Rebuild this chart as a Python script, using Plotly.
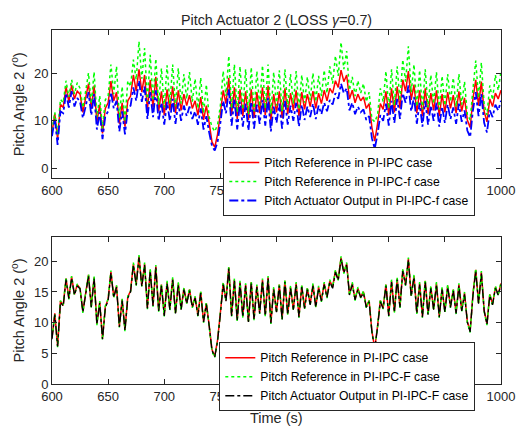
import numpy as np
import plotly.graph_objects as go

# time grid (s)
t_start, t_end, t_step = 600, 1000, 2.5
t = np.arange(t_start, t_end + t_step / 2, t_step)

# Pitch Reference in PI-IPC case (shared by both panels)
ref_ipc = [
    7.5, 11.5, 6.2, 13.5, 12.8, 17.2, 14.0, 17.5, 14.6, 16.2, 15.6, 11.8, 14.8, 17.8, 12.6, 17.4, 9.8, 13.4, 7.4, 12.6,
    13.8, 18.3, 14.2, 16.0, 9.4, 13.8, 8.8, 14.2, 15.2, 19.6, 16.2, 20.8, 16.0, 19.6, 12.4, 18.6, 12.8, 19.2, 12.0, 16.2,
    11.2, 16.6, 12.2, 17.2, 11.6, 16.4, 12.2, 15.6, 13.2, 15.4, 12.6, 14.2, 11.2, 15.0, 10.2, 13.2, 9.6, 5.6, 4.5, 7.2,
    11.6, 16.4, 13.6, 19.0, 11.2, 17.0, 10.4, 16.6, 11.0, 16.2, 10.2, 16.6, 10.6, 16.0, 11.6, 17.0, 11.2, 17.4, 10.0, 15.6,
    11.8, 16.2, 10.6, 16.8, 11.4, 15.8, 12.2, 16.4, 11.0, 16.0, 12.4, 15.6, 13.0, 16.2, 12.6, 15.8, 13.6, 16.4, 14.2, 16.8,
    15.8, 18.4, 17.0, 20.6, 18.2, 19.6, 14.6, 16.4, 13.8, 15.6, 14.2, 15.0, 12.6, 13.6, 8.6, 5.8, 9.4, 13.6, 12.4, 16.2,
    11.2, 16.8, 11.8, 17.2, 12.6, 18.6, 16.2, 20.4, 14.4, 17.6, 11.6, 16.4, 11.0, 16.8, 11.4, 15.8, 12.2, 16.4, 11.0, 15.6,
    11.8, 16.0, 12.6, 15.4, 11.6, 16.2, 12.0, 14.8, 10.2, 8.6, 14.6, 18.6, 13.2, 18.2, 12.0, 9.8, 14.6, 13.0, 15.8, 14.6,
    16.4,
]

# Pitch Reference in PI-IPC-f case (LOSS)
ref_ipcf_loss = [
    8.0, 11.8, 7.0, 14.5, 13.8, 18.4, 15.0, 18.6, 15.6, 18.0, 16.8, 12.8, 16.2, 20.0, 13.6, 20.2, 10.8, 15.2, 8.4, 14.4,
    15.2, 21.8, 15.6, 21.4, 10.6, 17.2, 9.8, 18.4, 17.2, 22.8, 18.6, 26.6, 18.8, 25.2, 14.0, 23.8, 14.2, 23.0, 13.4, 21.0,
    12.8, 21.6, 13.6, 21.8, 13.0, 21.0, 13.6, 19.8, 14.6, 20.2, 14.0, 18.8, 12.6, 19.0, 11.6, 17.6, 10.8, 8.8, 7.8, 9.2,
    13.2, 20.4, 15.2, 23.6, 12.6, 21.8, 11.8, 21.4, 12.4, 20.8, 11.4, 21.2, 12.0, 20.4, 13.0, 21.6, 12.6, 21.8, 11.4, 20.2,
    13.2, 20.6, 12.0, 20.8, 12.8, 19.8, 13.6, 20.4, 12.4, 19.6, 13.8, 19.2, 14.4, 20.0, 14.0, 19.4, 15.2, 20.6, 15.8, 21.4,
    17.8, 23.6, 19.4, 26.4, 20.8, 24.6, 16.4, 19.2, 15.2, 18.4, 15.8, 17.8, 14.0, 16.0, 10.4, 9.8, 11.2, 16.8, 14.0, 20.4,
    12.6, 20.8, 13.2, 21.4, 14.2, 22.8, 18.2, 25.6, 16.0, 21.8, 13.0, 20.6, 12.4, 20.8, 12.8, 19.6, 13.6, 20.2, 12.4, 19.4,
    13.2, 19.8, 14.0, 19.0, 13.0, 19.8, 13.4, 18.2, 11.4, 10.2, 16.6, 22.6, 14.8, 22.2, 13.4, 11.2, 17.4, 14.4, 19.6, 16.4,
    20.4,
]

# Pitch Actuator Output in PI-IPC-f case (LOSS)
act_ipcf_loss = [
    6.8, 10.4, 5.0, 12.0, 11.6, 15.8, 12.8, 16.2, 13.0, 14.8, 14.0, 10.6, 13.0, 16.0, 11.2, 15.6, 8.2, 11.8, 6.2, 11.0,
    12.0, 16.0, 12.6, 14.2, 7.8, 12.0, 7.2, 12.4, 13.2, 17.0, 14.2, 18.4, 14.0, 17.2, 10.4, 16.0, 10.8, 16.4, 10.0, 13.8,
    9.2, 14.0, 10.0, 14.6, 9.4, 13.8, 10.0, 13.2, 11.0, 13.0, 10.4, 12.0, 9.2, 12.6, 8.2, 11.0, 7.6, 4.8, 3.8, 5.6,
    9.6, 14.2, 11.6, 16.6, 9.0, 14.6, 8.2, 14.0, 8.8, 13.6, 8.0, 14.0, 8.4, 13.4, 9.4, 14.4, 9.0, 14.8, 7.8, 13.0,
    9.6, 13.6, 8.4, 14.2, 9.2, 13.2, 10.0, 13.8, 8.8, 13.4, 10.2, 13.0, 10.8, 13.6, 10.4, 13.2, 11.4, 13.8, 12.0, 14.4,
    13.4, 15.8, 14.6, 17.8, 15.8, 16.8, 12.2, 13.8, 11.4, 13.0, 11.8, 12.4, 10.2, 11.0, 6.4, 4.2, 7.2, 11.2, 10.0, 13.6,
    9.0, 14.2, 9.6, 14.6, 10.4, 15.8, 13.8, 17.4, 12.0, 15.0, 9.4, 13.8, 8.8, 14.2, 9.2, 13.2, 10.0, 13.8, 8.8, 13.0,
    9.6, 13.4, 10.4, 12.8, 9.4, 13.6, 9.8, 12.2, 8.0, 6.6, 12.2, 16.0, 11.0, 15.6, 9.6, 7.6, 12.2, 10.8, 13.4, 12.2,
    14.2,
]

# Pitch Reference in PI-IPC-F case
ref_ipcF = [
    7.6, 11.4, 6.0, 13.6, 12.9, 17.4, 13.8, 17.6, 14.5, 16.3, 15.5, 11.6, 14.9, 17.9, 12.4, 17.6, 9.6, 13.5, 7.2, 12.7,
    13.9, 18.5, 14.0, 16.1, 9.2, 13.9, 8.6, 14.3, 15.1, 19.8, 16.0, 21.0, 15.9, 19.8, 12.2, 18.8, 12.6, 19.4, 11.8, 16.3,
    11.0, 16.8, 12.0, 17.4, 11.4, 16.6, 12.0, 15.7, 13.1, 15.6, 12.4, 14.3, 11.0, 15.2, 10.0, 13.3, 9.4, 5.4, 4.3, 7.1,
    11.7, 16.6, 13.5, 19.2, 11.0, 17.2, 10.2, 16.8, 10.8, 16.4, 10.0, 16.8, 10.4, 16.2, 11.4, 17.2, 11.0, 17.6, 9.8, 15.8,
    11.6, 16.4, 10.4, 17.0, 11.2, 16.0, 12.0, 16.6, 10.8, 16.2, 12.2, 15.8, 12.8, 16.4, 12.4, 16.0, 13.4, 16.6, 14.0, 17.0,
    15.7, 18.6, 16.9, 20.8, 18.0, 19.8, 14.4, 16.6, 13.6, 15.8, 14.0, 15.2, 12.4, 13.7, 8.4, 5.6, 9.3, 13.8, 12.2, 16.4,
    11.0, 17.0, 11.6, 17.4, 12.4, 18.8, 16.0, 20.6, 14.2, 17.8, 11.4, 16.6, 10.8, 17.0, 11.2, 16.0, 12.0, 16.6, 10.8, 15.8,
    11.6, 16.2, 12.4, 15.6, 11.4, 16.4, 11.8, 15.0, 10.0, 8.4, 14.7, 18.8, 13.0, 18.4, 11.8, 9.6, 14.7, 12.8, 16.0, 14.4,
    16.6,
]

# Pitch Actuator Output in PI-IPC-F case
act_ipcF = [
    7.3, 11.3, 6.1, 13.3, 12.7, 17.0, 13.9, 17.3, 14.5, 16.0, 15.5, 11.7, 14.6, 17.6, 12.5, 17.2, 9.7, 13.2, 7.3, 12.4,
    13.6, 18.1, 14.1, 15.8, 9.3, 13.6, 8.7, 14.0, 15.0, 19.4, 16.1, 20.6, 15.9, 19.4, 12.3, 18.4, 12.7, 19.0, 11.9, 16.0,
    11.1, 16.4, 12.1, 17.0, 11.5, 16.2, 12.1, 15.4, 13.1, 15.2, 12.5, 14.0, 11.1, 14.8, 10.1, 13.0, 9.5, 5.5, 4.4, 7.0,
    11.4, 16.2, 13.5, 18.8, 11.1, 16.8, 10.3, 16.4, 10.9, 16.0, 10.1, 16.4, 10.5, 15.8, 11.5, 16.8, 11.1, 17.2, 9.9, 15.4,
    11.7, 16.0, 10.5, 16.6, 11.3, 15.6, 12.1, 16.2, 10.9, 15.8, 12.3, 15.4, 12.9, 16.0, 12.5, 15.6, 13.5, 16.2, 14.1, 16.6,
    15.6, 18.2, 16.9, 20.4, 18.1, 19.4, 14.5, 16.2, 13.7, 15.4, 14.1, 14.8, 12.5, 13.4, 8.5, 5.7, 9.2, 13.4, 12.3, 16.0,
    11.1, 16.6, 11.7, 17.0, 12.5, 18.4, 16.1, 20.2, 14.3, 17.4, 11.5, 16.2, 10.9, 16.6, 11.3, 15.6, 12.1, 16.2, 10.9, 15.4,
    11.7, 15.8, 12.5, 15.2, 11.5, 16.0, 11.9, 14.6, 10.1, 8.5, 14.4, 18.4, 13.1, 18.0, 11.9, 9.7, 14.4, 12.9, 15.6, 14.5,
    16.2,
]

x_ticks = [600, 650, 700, 750, 800, 850, 900, 950, 1000]
y1_ticks = [0, 10, 20]
y2_ticks = [0, 5, 10, 15, 20]

FONT = "Liberation Sans, Arial, sans-serif"
AX = "#262626"

fig = go.Figure()

fig.add_trace(go.Scatter(x=t, y=ref_ipc, mode="lines", name="Pitch Reference in PI-IPC case",
                         line=dict(color="#FF0000", width=1.5), xaxis="x", yaxis="y", legend="legend"))
fig.add_trace(go.Scatter(x=t, y=ref_ipcf_loss, mode="lines", name="Pitch Reference in PI-IPC-f case",
                         line=dict(color="#00FF00", width=1.5, dash="dot"), xaxis="x", yaxis="y", legend="legend"))
fig.add_trace(go.Scatter(x=t, y=act_ipcf_loss, mode="lines", name="Pitch Actuator Output in PI-IPC-f case",
                         line=dict(color="#0000FF", width=1.8, dash="dashdot"), xaxis="x", yaxis="y", legend="legend"))

fig.add_trace(go.Scatter(x=t, y=ref_ipc, mode="lines", name="Pitch Reference in PI-IPC case",
                         line=dict(color="#FF0000", width=1.5), xaxis="x2", yaxis="y2", legend="legend2"))
fig.add_trace(go.Scatter(x=t, y=ref_ipcF, mode="lines", name="Pitch Reference in PI-IPC-F case",
                         line=dict(color="#00FF00", width=1.5, dash="dot"), xaxis="x2", yaxis="y2", legend="legend2"))
fig.add_trace(go.Scatter(x=t, y=act_ipcF, mode="lines", name="Pitch Actuator Output in PI-IPC-F case",
                         line=dict(color="#000000", width=1.3, dash="dashdot"), xaxis="x2", yaxis="y2", legend="legend2"))

axis_common = dict(showline=True, linecolor=AX, linewidth=1, mirror="ticks", ticks="inside",
                   ticklen=5, tickcolor=AX, showgrid=False, zeroline=False,
                   tickfont=dict(family=FONT, size=13, color=AX))

legend_common = dict(xanchor="left", yanchor="top", bgcolor="white", bordercolor=AX, borderwidth=1,
                     font=dict(family=FONT, size=12.2, color="black"), tracegroupgap=0, itemwidth=30)

fig.update_layout(
    width=517, height=426,
    margin=dict(l=52, r=16, t=30, b=42, autoexpand=False),
    paper_bgcolor="white", plot_bgcolor="white",
    xaxis=dict(domain=[0, 1], anchor="y", range=[600, 1000], tickvals=x_ticks, **axis_common),
    yaxis=dict(domain=[0.581, 1], anchor="x", range=[-2, 29], tickvals=y1_ticks, **axis_common),
    xaxis2=dict(domain=[0, 1], anchor="y2", range=[600, 1000], tickvals=x_ticks, **axis_common),
    yaxis2=dict(domain=[0, 0.416], anchor="x2", range=[0, 24], tickvals=y2_ticks, **axis_common),
    legend=dict(x=0.3815, y=0.6695, **legend_common),
    legend2=dict(x=0.3726, y=0.118, **legend_common),
    showlegend=True,
    annotations=[
        dict(text="Pitch Actuator 2 (LOSS <i>γ</i>=0.7)", x=0.5, y=1.028, xref="paper", yref="paper",
             xanchor="center", yanchor="middle", showarrow=False, font=dict(family=FONT, size=14.3, color=AX)),
        dict(text="Pitch Angle 2 (<sup>o</sup>)", x=-0.0757, y=0.79, xref="paper", yref="paper",
             xanchor="center", yanchor="middle", textangle=-90, showarrow=False,
             font=dict(family=FONT, size=14.5, color=AX)),
        dict(text="Pitch Angle 2 (<sup>o</sup>)", x=-0.0757, y=0.208, xref="paper", yref="paper",
             xanchor="center", yanchor="middle", textangle=-90, showarrow=False,
             font=dict(family=FONT, size=14.5, color=AX)),
        dict(text="Time (s)", x=0.5, y=-0.097, xref="paper", yref="paper",
             xanchor="center", yanchor="middle", showarrow=False, font=dict(family=FONT, size=14.5, color=AX)),
    ],
)

fig.write_html("out.html")
